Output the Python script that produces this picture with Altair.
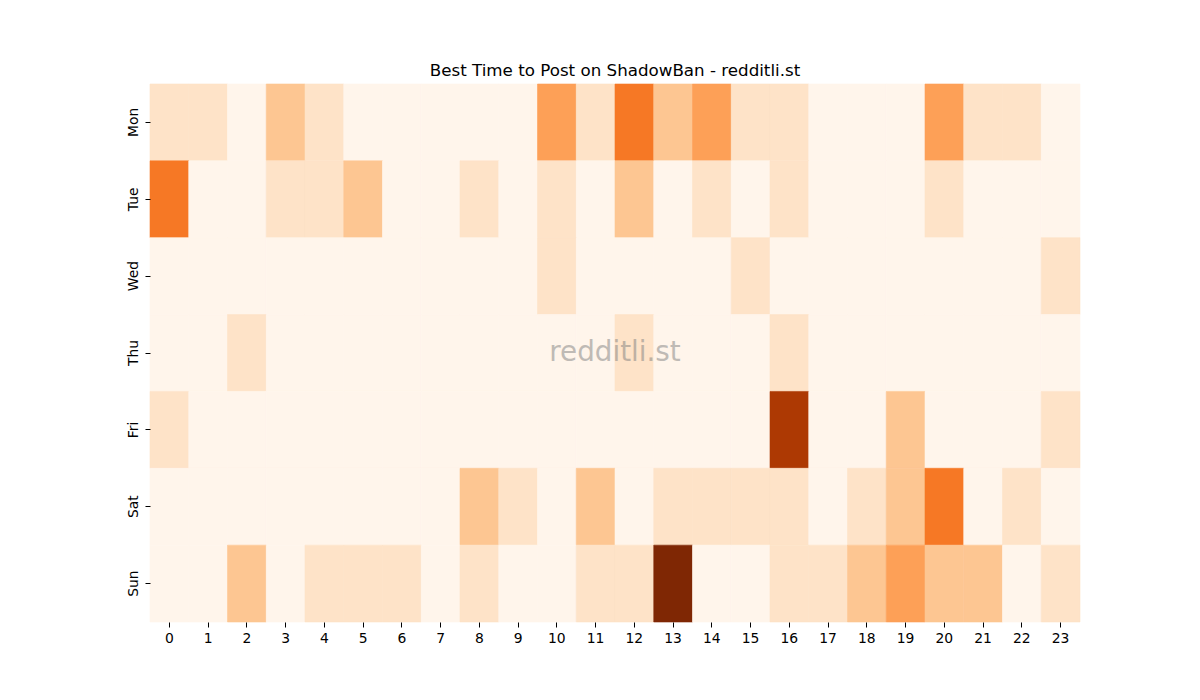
import altair as alt
import pandas as pd

days = ["Mon", "Tue", "Wed", "Thu", "Fri", "Sat", "Sun"]
hours = list(range(24))

mon = [1, 1, 0, 2, 1, 0, 0, 0, 0, 0, 3, 1, 4, 2, 3, 1, 1, 0, 0, 0, 3, 1, 1, 0]
tue = [4, 0, 0, 1, 1, 2, 0, 0, 1, 0, 1, 0, 2, 0, 1, 0, 1, 0, 0, 0, 1, 0, 0, 0]
wed = [0, 0, 0, 0, 0, 0, 0, 0, 0, 0, 1, 0, 0, 0, 0, 1, 0, 0, 0, 0, 0, 0, 0, 1]
thu = [0, 0, 1, 0, 0, 0, 0, 0, 0, 0, 0, 0, 1, 0, 0, 0, 1, 0, 0, 0, 0, 0, 0, 0]
fri = [1, 0, 0, 0, 0, 0, 0, 0, 0, 0, 0, 0, 0, 0, 0, 0, 6, 0, 0, 2, 0, 0, 0, 1]
sat = [0, 0, 0, 0, 0, 0, 0, 0, 2, 1, 0, 2, 0, 1, 1, 1, 1, 0, 1, 2, 4, 0, 1, 0]
sun = [0, 0, 2, 0, 1, 1, 1, 0, 1, 0, 0, 1, 1, 7, 0, 0, 1, 1, 2, 3, 2, 2, 0, 1]

rows = [mon, tue, wed, thu, fri, sat, sun]
records = []
for d, row in zip(days, rows):
    for h, v in zip(hours, row):
        records.append({"day": d, "hour": h, "v": v})
df = pd.DataFrame(records)

vmax = 7
oranges = ['#fff5eb', '#fee6ce', '#fdd0a2', '#fdae6b', '#fd8d3c',
           '#f16913', '#d94801', '#a63603', '#7f2704']
dom = [vmax * i / 8 for i in range(9)]
cscale = alt.Scale(domain=dom, range=oranges, interpolate="rgb")

heat = alt.Chart(df).mark_rect(strokeWidth=0.6).encode(
    x=alt.X("hour:O", sort=hours,
            scale=alt.Scale(paddingInner=0, paddingOuter=0),
            axis=alt.Axis(title=None, labelAngle=0, labelPadding=4)),
    y=alt.Y("day:O", sort=days,
            scale=alt.Scale(paddingInner=0, paddingOuter=0),
            axis=alt.Axis(title=None, labelAngle=270, labelAlign="center",
                          labelBaseline="bottom", labelPadding=5)),
    color=alt.Color("v:Q", scale=cscale, legend=None),
    stroke=alt.Stroke("v:Q", scale=cscale, legend=None),
)

wm = alt.Chart(pd.DataFrame({"t": ["redditli.st"]})).mark_text(
    align="center", baseline="middle", fontSize=27.8, font="DejaVu Sans",
    color="gray", opacity=0.5
).encode(x=alt.value(465), y=alt.value(269), text="t:N")

ttl = alt.Chart(pd.DataFrame({"t": ["Best Time to Post on ShadowBan - redditli.st"]})).mark_text(
    align="center", baseline="alphabetic", fontSize=16.7, font="DejaVu Sans",
    color="black"
).encode(x=alt.value(465), y=alt.value(-8), text="t:N")

chart = alt.layer(heat, wm, ttl).properties(
    width=930, height=538,
    autosize=alt.AutoSizeParams(type="none"),
    padding={"left": 150, "top": 84, "right": 120, "bottom": 78},
    background="white",
).configure_view(stroke=None).configure_axis(
    domain=False, grid=False, tickColor="black", tickSize=5, tickWidth=1,
    labelFont="DejaVu Sans", labelFontSize=13.9, labelColor="black",
)

chart.save("out.html", embed_options={"renderer": "svg", "actions": False})
